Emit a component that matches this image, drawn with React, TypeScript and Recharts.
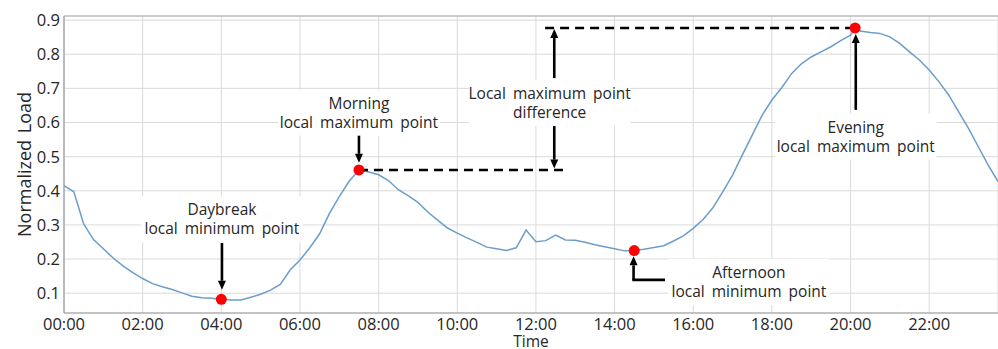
import {
  LineChart,
  Line,
  XAxis,
  YAxis,
  CartesianGrid,
  ReferenceLine,
  ReferenceDot,
  Label,
} from 'recharts'

// load profile (15-min steps, plus the evening peak sample)
const times = [
  '00:00', '00:15', '00:30', '00:45', '01:00', '01:15', '01:30', '01:45',
  '02:00', '02:15', '02:30', '02:45', '03:00', '03:15', '03:30', '03:45',
  '04:00', '04:15', '04:30', '04:45', '05:00', '05:15', '05:30', '05:45',
  '06:00', '06:15', '06:30', '06:45', '07:00', '07:15', '07:30', '07:45',
  '08:00', '08:15', '08:30', '08:45', '09:00', '09:15', '09:30', '09:45',
  '10:00', '10:15', '10:30', '10:45', '11:00', '11:15', '11:30', '11:45',
  '12:00', '12:15', '12:30', '12:45', '13:00', '13:15', '13:30', '13:45',
  '14:00', '14:15', '14:30', '14:45', '15:00', '15:15', '15:30', '15:45',
  '16:00', '16:15', '16:30', '16:45', '17:00', '17:15', '17:30', '17:45',
  '18:00', '18:15', '18:30', '18:45', '19:00', '19:15', '19:30', '19:45',
  '20:00', '20:07', '20:15', '20:30', '20:45', '21:00', '21:15', '21:30', '21:45',
  '22:00', '22:15', '22:30', '22:45', '23:00', '23:15', '23:30', '23:45',
]

const loads = [
  0.415, 0.397, 0.303, 0.257, 0.230, 0.203, 0.180, 0.160,
  0.143, 0.128, 0.119, 0.111, 0.101, 0.091, 0.087, 0.085,
  0.082, 0.080, 0.080, 0.088, 0.097, 0.109, 0.126, 0.168,
  0.197, 0.233, 0.274, 0.334, 0.383, 0.428, 0.461, 0.455,
  0.447, 0.430, 0.403, 0.386, 0.366, 0.338, 0.314, 0.291,
  0.276, 0.262, 0.249, 0.235, 0.230, 0.225, 0.233, 0.285,
  0.251, 0.254, 0.270, 0.256, 0.255, 0.249, 0.242, 0.236,
  0.230, 0.224, 0.225, 0.229, 0.234, 0.239, 0.253, 0.268,
  0.290, 0.316, 0.350, 0.397, 0.446, 0.505, 0.563, 0.621,
  0.666, 0.702, 0.743, 0.772, 0.792, 0.807, 0.822, 0.840,
  0.856, 0.877, 0.868, 0.864, 0.861, 0.851, 0.832, 0.807, 0.783,
  0.754, 0.719, 0.680, 0.631, 0.583, 0.529, 0.475, 0.427,
]

const extremaTimes = ['04:00', '07:30', '14:30', '20:07']

const xTicks = [0, 120, 240, 360, 480, 600, 720, 840, 960, 1080, 1200, 1320]
const yTicks = [0.1, 0.2, 0.3, 0.4, 0.5, 0.6, 0.7, 0.8, 0.9]

// annotation text, centred at (time, load)
const notes = [
  { lines: ['Daybreak', 'local minimum point'], time: '04:01', load: 0.316 },
  { lines: ['Morning', 'local maximum point'], time: '07:30', load: 0.629 },
  { lines: ['Local maximum point', 'difference'], time: '12:21', load: 0.657 },
  { lines: ['Evening', 'local maximum point'], time: '20:08', load: 0.559 },
  { lines: ['Afternoon', 'local minimum point'], time: '17:25', load: 0.133 },
]

// arrows: [from, to] as [time, load]
const arrows: [string, number, string, number][] = [
  ['04:01', 0.247, '04:01', 0.11],
  ['07:30', 0.563, '07:30', 0.482],
  ['12:28', 0.73, '12:28', 0.874],
  ['12:28', 0.593, '12:28', 0.465],
  ['20:08', 0.637, '20:08', 0.859],
  ['14:29', 0.139, '14:29', 0.208],
]

const dashed: [string, number, string, number][] = [
  ['07:30', 0.461, '12:46', 0.461],
  ['12:14', 0.877, '20:07', 0.877],
]

const toMin = (s: string) => {
  const [h, m] = s.split(':').map(Number)
  return h * 60 + m
}

const data = times.map((t, i) => ({ t: toMin(t), load: loads[i] }))
const extrema = extremaTimes.map((t) => data[times.indexOf(t)])

const FONT = '"Open Sans", "Noto Sans", sans-serif'
const TEXT = '#262626'

const Arrow = (p: any) => {
  const { x1, y1, x2, y2 } = p
  const dx = x2 - x1
  const dy = y2 - y1
  const len = Math.hypot(dx, dy) || 1
  const ux = dx / len
  const uy = dy / len
  const hl = 9
  const hw = 4
  const bx = x2 - ux * hl
  const by = y2 - uy * hl
  return (
    <g>
      <line x1={x1} y1={y1} x2={bx} y2={by} stroke="#000" strokeWidth={2.6} />
      <polygon
        points={`${x2},${y2} ${bx - uy * hw},${by + ux * hw} ${bx + uy * hw},${by - ux * hw}`}
        fill="#000"
      />
    </g>
  )
}

const NoteBox = ({ cx, cy, lines }: { cx: number; cy: number; lines: string[] }) => {
  const longest = Math.max(...lines.map((l) => l.length))
  const w = longest * 8.4 + 2
  const h = 46
  return (
    <g>
      <rect x={cx - w / 2} y={cy - h / 2} width={w} height={h} fill="#fff" />
      {lines.map((l, i) => (
        <text
          key={i}
          x={cx}
          y={cy - 4 + i * 19}
          textAnchor="middle"
          fontFamily={FONT}
          fontSize={15.5}
          wordSpacing={3}
          fill={TEXT}
        >
          {l}
        </text>
      ))}
    </g>
  )
}

const hhmm = (m: number) => `${String(Math.floor(m / 60)).padStart(2, '0')}:00`

export default function App() {
  return (
    <div style={{ position: 'absolute', left: 0, top: 0, background: '#fff' }}>
      <LineChart
        width={998}
        height={349}
        data={data}
        margin={{ top: 16, right: 0, bottom: 0, left: 0 }}
        style={{ fontFamily: FONT }}
      >
        <CartesianGrid stroke="#dadada" strokeWidth={1} />
        <XAxis
          dataKey="t"
          type="number"
          domain={[0, 1425]}
          allowDataOverflow
          ticks={xTicks}
          tickFormatter={hhmm}
          height={36}
          tickLine={false}
          tickSize={4}
          tickMargin={1}
          axisLine={{ stroke: '#999', strokeWidth: 1.2 }}
          tick={{ fill: TEXT, fontSize: 16.5 }}
        >
          <Label value="Time" position="insideBottom" offset={2} fill={TEXT} fontSize={15.5} />
        </XAxis>
        <YAxis
          type="number"
          domain={[0.042, 0.912]}
          allowDataOverflow
          ticks={yTicks}
          tickFormatter={(v: number) => v.toFixed(1)}
          width={64}
          tickLine={false}
          tickSize={2}
          tickMargin={2}
          axisLine={{ stroke: '#999', strokeWidth: 1.2 }}
          tick={{ fill: TEXT, fontSize: 16.5 }}
        >
          <Label
            value="Normalized Load"
            angle={-90}
            position="center"
            dx={-7}
            fill={TEXT}
            fontSize={18}
            wordSpacing={2}
          />
        </YAxis>
        <ReferenceLine y={0.912} stroke="#aaa" strokeWidth={1} />
        <Line
          type="linear"
          dataKey="load"
          stroke="#6b9dcb"
          strokeWidth={1.5}
          dot={false}
          isAnimationActive={false}
        />
        {dashed.map(([t1, v1, t2, v2], i) => (
          <ReferenceLine
            key={`d${i}`}
            segment={[{ x: toMin(t1), y: v1 }, { x: toMin(t2), y: v2 }]}
            stroke="#000"
            strokeWidth={2.6}
            strokeDasharray="9 6"
          />
        ))}
        {arrows.map(([t1, v1, t2, v2], i) => (
          <ReferenceLine
            key={`a${i}`}
            segment={[{ x: toMin(t1), y: v1 }, { x: toMin(t2), y: v2 }]}
            shape={Arrow}
          />
        ))}
        <ReferenceLine
          segment={[{ x: toMin('14:29'), y: 0.139 }, { x: toMin('15:15'), y: 0.139 }]}
          stroke="#000"
          strokeWidth={2.6}
          strokeLinecap="square"
        />
        {extrema.map((d, i) => (
          <ReferenceDot key={`e${i}`} x={d.t} y={d.load} r={5.5} fill="#ff0000" stroke="none" />
        ))}
        {notes.map((n, i) => (
          <ReferenceDot
            key={`n${i}`}
            x={toMin(n.time)}
            y={n.load}
            shape={(p: any) => <NoteBox cx={p.cx} cy={p.cy} lines={n.lines} />}
          />
        ))}
      </LineChart>
    </div>
  )
}
